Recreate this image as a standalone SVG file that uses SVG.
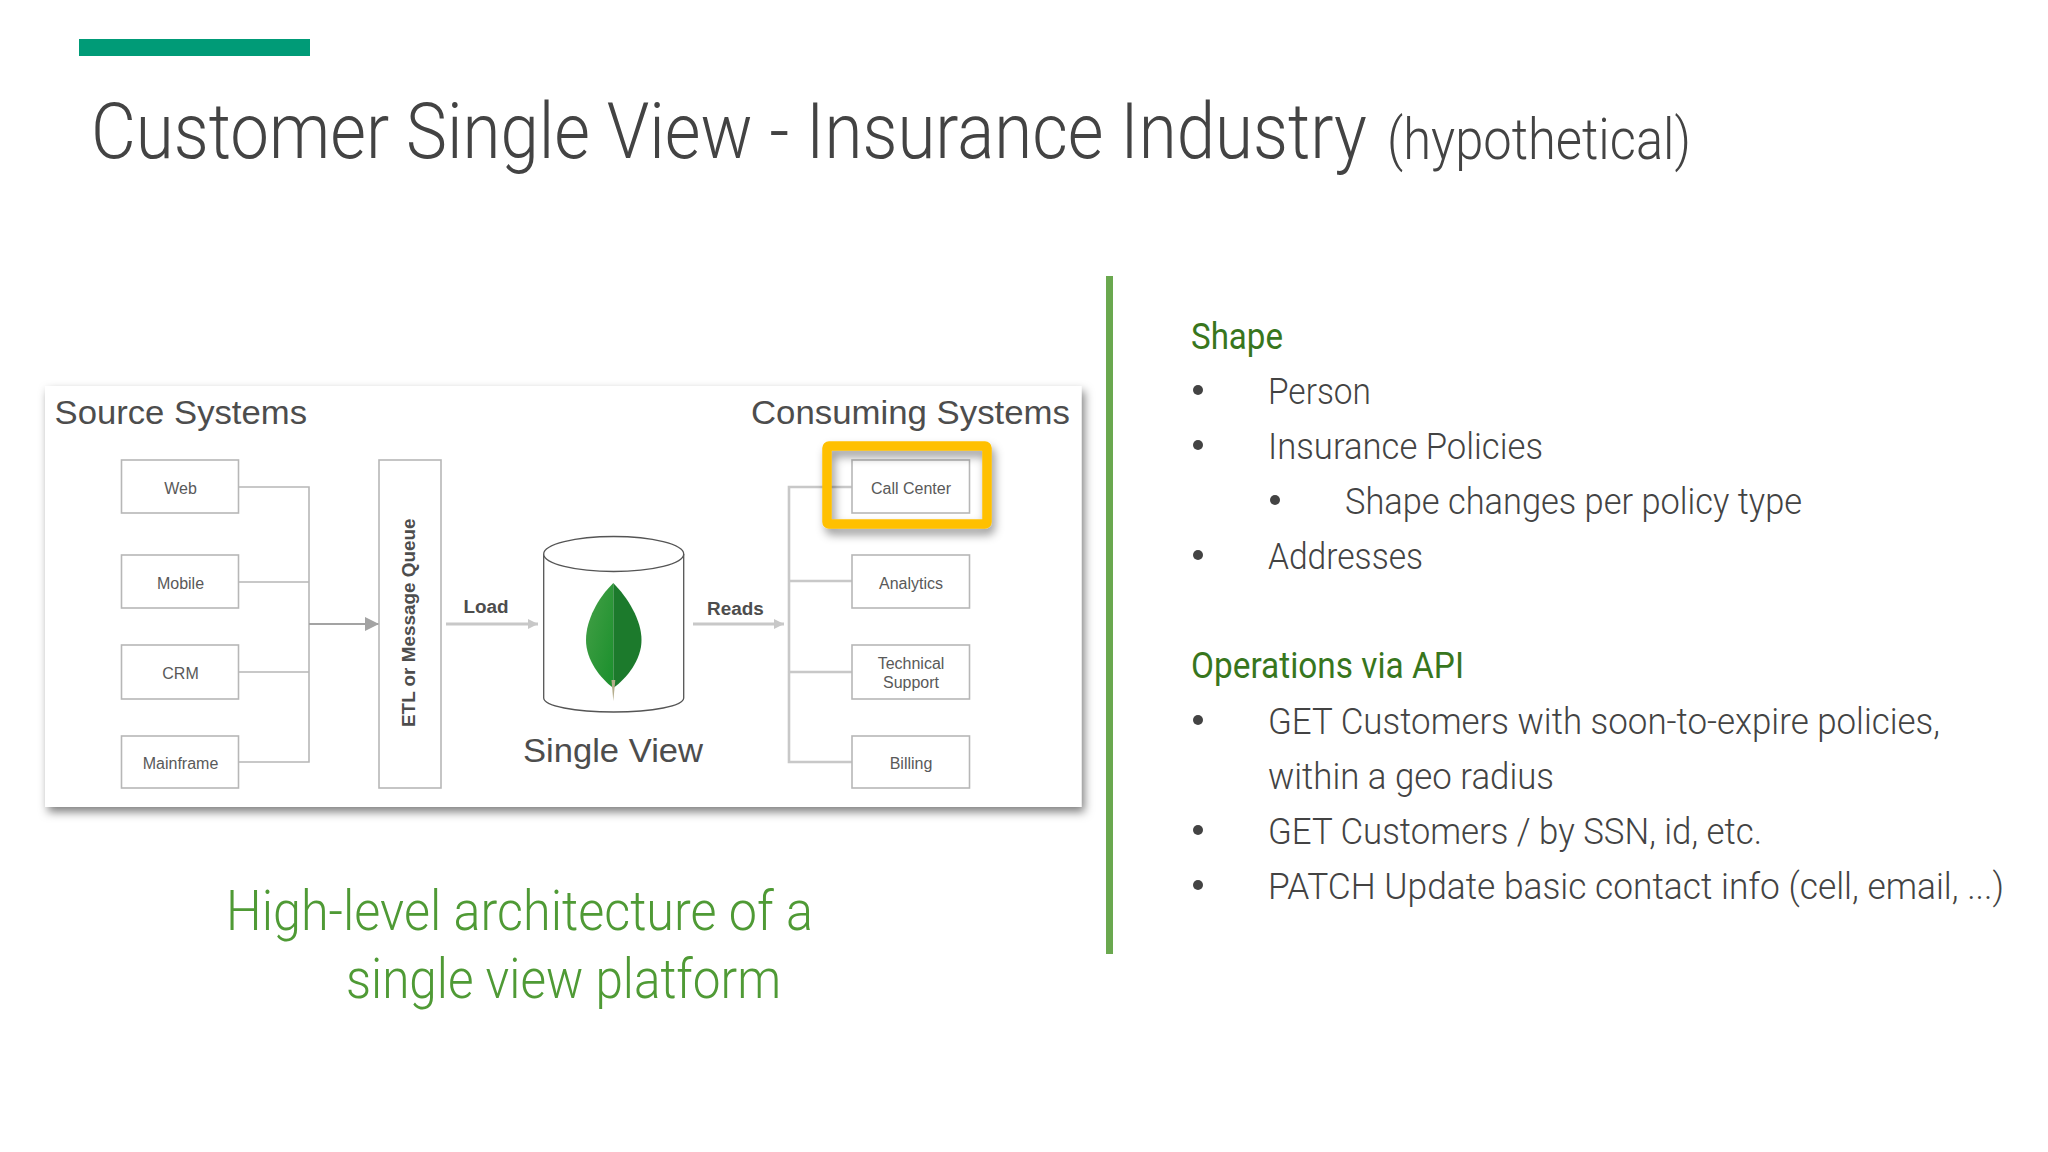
<svg xmlns="http://www.w3.org/2000/svg" width="2048" height="1152" viewBox="0 0 2048 1152">
<style>
.title{font-family:"Roboto","Liberation Sans",sans-serif;font-weight:300;fill:#434343}
.body{font-family:"Roboto","Liberation Sans",sans-serif;font-weight:300;font-size:37px;fill:#434343}
.head{font-family:"Roboto","Liberation Sans",sans-serif;font-weight:400;font-size:37px;fill:#38761d}
.cap{font-family:"Roboto","Liberation Sans",sans-serif;font-weight:300;font-size:55px;fill:#4f9a35}
.sans{font-family:"Liberation Sans",Arial,sans-serif;fill:#4d4d4d}
.big{font-size:33.500px}
.bold{font-weight:700;font-size:18.900px}
.lbl{font-size:16px;fill:#595959;text-anchor:middle}
.box{fill:#fff;stroke:#b7b7b7;stroke-width:1.6}
.src{fill:none;stroke:#b7b7b7;stroke-width:1.6}
.con{fill:none;stroke:#c8c8c8;stroke-width:2.6}
.load{fill:none;stroke:#c8c8c8;stroke-width:3}
.bul{fill:#434343}
</style>
<defs>
<filter id="cardShadow" x="-5%" y="-5%" width="110%" height="115%"><feDropShadow dx="3" dy="5" stdDeviation="5" flood-color="#000" flood-opacity="0.5"/></filter>
<filter id="hlShadow" x="-15%" y="-25%" width="130%" height="160%"><feDropShadow dx="3" dy="6" stdDeviation="5" flood-color="#000" flood-opacity="0.4"/></filter>
<linearGradient id="leafL" x1="0" y1="0" x2="1" y2="1"><stop offset="0" stop-color="#45a047"/><stop offset="1" stop-color="#1a8f2c"/></linearGradient>
<marker id="ah" markerUnits="userSpaceOnUse" markerWidth="14" markerHeight="14" refX="14" refY="7" orient="auto"><path d="M0,0L14,7L0,14Z" fill="#a3a3a3"/></marker>
<marker id="ahl" markerUnits="userSpaceOnUse" markerWidth="10" markerHeight="12" refX="10" refY="6" orient="auto"><path d="M0,1L10,6L0,11Z" fill="#c8c8c8"/></marker>
</defs>
<rect width="2048" height="1152" fill="#fff"/>
<rect x="79" y="39" width="231" height="17" fill="#009b77"/>
<text class="title" transform="translate(91 158) scale(0.82 1)" font-size="78" textLength="1556" lengthAdjust="spacingAndGlyphs">Customer Single View - Insurance Industry</text>
<text class="title" transform="translate(1387 159) scale(0.8 1)" font-size="58" textLength="380" lengthAdjust="spacingAndGlyphs">(hypothetical)</text>
<rect x="45" y="386" width="1036.500" height="421" fill="#fff" filter="url(#cardShadow)"/>
<text class="sans big" x="54.500" y="424" textLength="252.500" lengthAdjust="spacingAndGlyphs">Source Systems</text>
<text class="sans big" x="751" y="424" textLength="319" lengthAdjust="spacingAndGlyphs">Consuming Systems</text>
<g id="connectors">
<path class="src" d="M238,487H309V762H238M238,582H309M238,672H309"/>
<path d="M309,624H379" fill="none" stroke="#a3a3a3" stroke-width="2" marker-end="url(#ah)"/>
<path class="load" d="M446,624H538" marker-end="url(#ahl)"/>
<path class="load" d="M693,624H784" marker-end="url(#ahl)"/>
<path class="con" d="M852,487H789V762H852M789,581H852M789,672H852"/>
</g>
<g id="web"><rect class="box" x="121.500" y="460" width="117" height="53"/><text class="sans lbl" x="180.500" y="494">Web</text></g>
<g id="mobile"><rect class="box" x="121.500" y="555" width="117" height="53"/><text class="sans lbl" x="180.500" y="589">Mobile</text></g>
<g id="crm"><rect class="box" x="121.500" y="645" width="117" height="54"/><text class="sans lbl" x="180.500" y="679">CRM</text></g>
<g id="mainframe"><rect class="box" x="121.500" y="736" width="117" height="52"/><text class="sans lbl" x="180.500" y="769">Mainframe</text></g>
<g id="etl"><rect class="box" x="379" y="460" width="62" height="328"/><text class="sans bold" transform="translate(414.500 727) rotate(-90)">ETL or Message Queue</text></g>
<text class="sans bold" x="463.500" y="613">Load</text>
<text class="sans bold" x="707" y="615">Reads</text>
<g id="single-view">
<path d="M543.700,554V698C543.700,706 575,712 613.700,712S683.700,706 683.700,698V554" fill="#fff" stroke="#555" stroke-width="1.300"/>
<ellipse cx="613.700" cy="554" rx="70" ry="17.500" fill="#fff" stroke="#555" stroke-width="1.300"/>
<path d="M613.300,583C598,598 586,620 586,640C586,660 600,678 613.300,688Z" fill="url(#leafL)"/>
<path d="M613.300,583C628,598 641.500,620 641.500,640C641.500,660 627,678 613.300,688Z" fill="#1c7a2c"/>
<path d="M611.500,680L613.300,701L615.300,680Z" fill="#b5ad8c"/>
<text class="sans big" x="523" y="762" textLength="180" lengthAdjust="spacingAndGlyphs">Single View</text>
</g>
<g id="call-center"><rect class="box" x="852" y="460" width="117.500" height="53"/><text class="sans lbl" x="911" y="494">Call Center</text></g>
<g id="analytics"><rect class="box" x="852" y="555" width="117.500" height="53"/><text class="sans lbl" x="911" y="589">Analytics</text></g>
<g id="technical-support"><rect class="box" x="852" y="645" width="117.500" height="54"/><text class="sans lbl" x="911" y="669">Technical</text><text class="sans lbl" x="911" y="688">Support</text></g>
<g id="billing"><rect class="box" x="852" y="736" width="117.500" height="52"/><text class="sans lbl" x="911" y="769">Billing</text></g>
<rect id="highlight" x="827" y="446" width="160" height="78" rx="2" fill="none" stroke="#ffc000" stroke-width="9.500" filter="url(#hlShadow)"/>
<text class="cap" x="226" y="930" textLength="587" lengthAdjust="spacingAndGlyphs">High-level architecture of a</text>
<text class="cap" x="346" y="998" textLength="435" lengthAdjust="spacingAndGlyphs">single view platform</text>
<rect x="1106" y="276" width="7" height="678" fill="#6aa84f"/>
<text class="head" x="1191" y="349" textLength="92" lengthAdjust="spacingAndGlyphs">Shape</text>
<circle class="bul" cx="1198" cy="390" r="5"/><text class="body" x="1268" y="404" textLength="103" lengthAdjust="spacingAndGlyphs">Person</text>
<circle class="bul" cx="1198" cy="445" r="5"/><text class="body" x="1268" y="459" textLength="275" lengthAdjust="spacingAndGlyphs">Insurance Policies</text>
<circle class="bul" cx="1275" cy="500" r="5"/><text class="body" x="1345" y="514" textLength="457" lengthAdjust="spacingAndGlyphs">Shape changes per policy type</text>
<circle class="bul" cx="1198" cy="555" r="5"/><text class="body" x="1268" y="569" textLength="155" lengthAdjust="spacingAndGlyphs">Addresses</text>
<text class="head" x="1191" y="678" textLength="273" lengthAdjust="spacingAndGlyphs">Operations via API</text>
<circle class="bul" cx="1198" cy="720" r="5"/><text class="body" x="1268" y="734" textLength="672" lengthAdjust="spacingAndGlyphs">GET Customers with soon-to-expire policies,</text>
<text class="body" x="1268" y="789" textLength="286" lengthAdjust="spacingAndGlyphs">within a geo radius</text>
<circle class="bul" cx="1198" cy="830" r="5"/><text class="body" x="1268" y="844" textLength="494" lengthAdjust="spacingAndGlyphs">GET Customers / by SSN, id, etc.</text>
<circle class="bul" cx="1198" cy="885" r="5"/><text class="body" x="1268" y="899" textLength="736" lengthAdjust="spacingAndGlyphs">PATCH Update basic contact info (cell, email, ...)</text>
</svg>
